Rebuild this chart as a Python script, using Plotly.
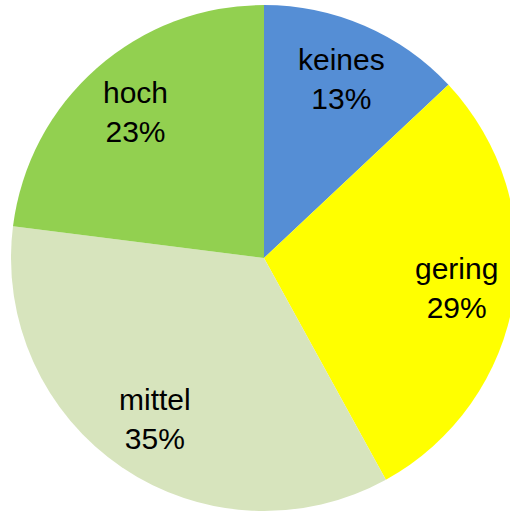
import math
import plotly.graph_objects as go

# Anteile je Kategorie (in Prozent)
kategorien = ["keines", "gering", "mittel", "hoch"]
anteile = [13, 29, 35, 23]
farben = ["#558ED5", "#FFFF00", "#D7E4BD", "#92D050"]

fig = go.Figure(
    go.Pie(
        labels=kategorien,
        values=anteile,
        sort=False,
        direction="clockwise",
        rotation=0,
        marker=dict(colors=farben, line=dict(width=0)),
        textinfo="none",
        showlegend=False,
        hoverinfo="label+percent",
    )
)

# Beschriftungen in der Mitte jedes Segments (Winkel aus den Anteilen)
summe = sum(anteile)
kum = 0
for name, wert in zip(kategorien, anteile):
    mitte = (kum + wert / 2) / summe * 2 * math.pi
    kum += wert
    fig.add_annotation(
        x=0.5 + 0.385 * math.sin(mitte),
        y=0.5 + 0.385 * math.cos(mitte),
        xref="paper",
        yref="paper",
        text=f"{name}<br>{round(wert / summe * 100)}%",
        showarrow=False,
        xanchor="center",
        yanchor="middle",
        font=dict(family="Liberation Sans, Arial, sans-serif", size=30, color="black"),
    )

fig.update_layout(
    width=520,
    height=512,
    margin=dict(l=11, r=3, t=5, b=1),
    paper_bgcolor="white",
    plot_bgcolor="white",
)

fig.write_html(
    "out.html",
    config={"displayModeBar": False},
    post_script="document.body.style.margin='0';document.body.style.overflow='hidden';",
)
